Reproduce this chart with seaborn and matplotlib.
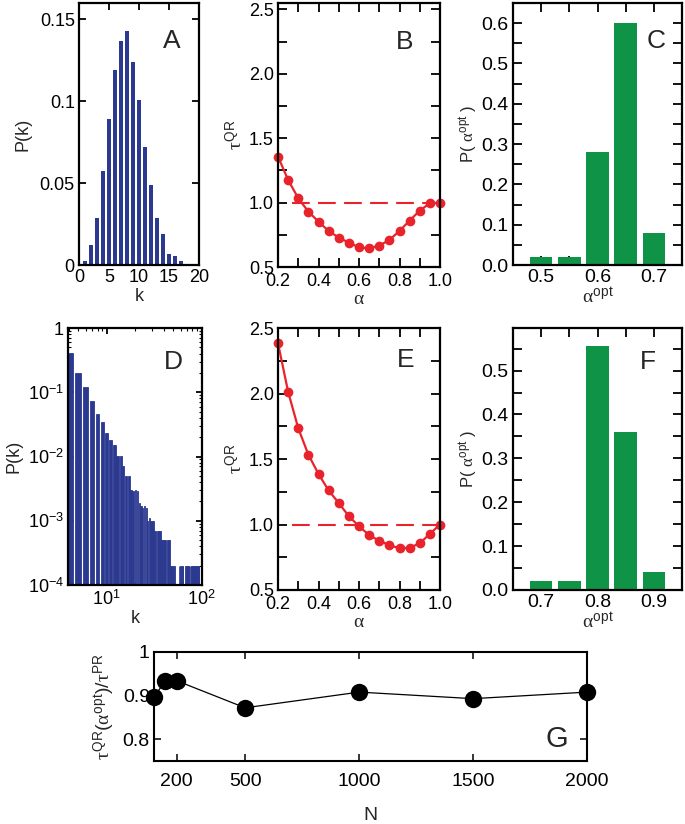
import matplotlib.pyplot as plt
import seaborn as sns
from matplotlib.ticker import FixedLocator, LogLocator, MultipleLocator, NullFormatter

# Panel A: degree distribution of the random graph
k_a = [1, 2, 3, 4, 5, 6, 7, 8, 9, 10, 11, 12, 13, 14, 15, 16, 17]
p_a = [0.0024, 0.012, 0.0285, 0.0575, 0.089, 0.119, 0.137, 0.1427, 0.124,
       0.1006, 0.072, 0.049, 0.0285, 0.019, 0.0067, 0.0055, 0.0026]

# Panels B and E: tau^QR against alpha
alpha = [0.2, 0.25, 0.3, 0.35, 0.4, 0.45, 0.5, 0.55, 0.6, 0.65, 0.7, 0.75,
         0.8, 0.85, 0.9, 0.95, 1.0]
tau_b = [1.357, 1.176, 1.034, 0.93, 0.852, 0.78, 0.728, 0.689, 0.653, 0.645,
         0.666, 0.71, 0.78, 0.86, 0.938, 0.995, 1.0]
tau_e = [2.384, 2.013, 1.735, 1.533, 1.386, 1.26, 1.164, 1.063, 0.987, 0.919,
         0.876, 0.843, 0.818, 0.823, 0.856, 0.929, 1.0]

# Panels C and F: distribution of alpha^opt
alpha_opt_c = [0.5, 0.55, 0.6, 0.65, 0.7]
p_opt_c = [0.02, 0.02, 0.28, 0.60, 0.08]
alpha_opt_f = [0.7, 0.75, 0.8, 0.85, 0.9]
p_opt_f = [0.02, 0.02, 0.555, 0.36, 0.04]

# Panel D: degree distribution of the scale-free graph (k = 4 .. 94)
k_d = list(range(4, 95))
p_d = [0.41, 0.20, 0.12, 0.074, 0.046, 0.035, 0.023, 0.018, 0.015, 0.0103,
       0.0100, 0.0070, 0.0049, 0.0049, 0.0030, 0.0029, 0.0030, 0.0029, 0.0019, 0.0017,
       0.0016, 0.0017, 0.0016, 0.0010, 0.0011, 0.0010, 0.0010, 0.0010, 0.0007, 0.0007,
       0.0007, 0.0007, 0.0007, 0.0007, 0.0005, 0.0005, 0.0005, 0.0005, 0.0005, 0.0001,
       0.0005, 0.0005, 0.0005, 0.0002, 0.0002, 0.0002, 0.0002, 0.0002, 0.0002, 0.0001,
       0.0001, 0.0001, 0.0001, 0.0001, 0.0002, 0.0002, 0.0002, 0.0002, 0.0002, 0.0002,
       0.0002, 0.0001, 0.0001, 0.0001, 0.0002, 0.0002, 0.0002, 0.0002, 0.0002, 0.0002,
       0.0002, 0.0002, 0.0001, 0.0002, 0.0002, 0.0002, 0.0002, 0.0002, 0.0002, 0.0002,
       0.0002, 0.0002, 0.0002, 0.0002, 0.0002, 0.0002, 0.0002, 0.0002, 0.0002, 0.0002,
       0.0002]

# Panel G: ratio against network size
n_nodes = [100, 150, 200, 500, 1000, 1500, 2000]
ratio = [0.897, 0.934, 0.934, 0.872, 0.908, 0.893, 0.908]

BLUE = "#2b3990"
RED = "#e8232b"
GREEN = "#0f9447"

sns.set_theme(style="ticks")
plt.rcParams["font.family"] = ["Liberation Sans", "DejaVu Sans"]
plt.rcParams["mathtext.fontset"] = "custom"
plt.rcParams["mathtext.rm"] = "Liberation Sans"
plt.rcParams["mathtext.it"] = "Liberation Serif"
plt.rcParams["mathtext.bf"] = "Liberation Sans:bold"

W, H = 685, 824
fig = plt.figure(figsize=(W / 100, H / 100), dpi=100)


def add_axes(left, top, right, bottom):
    return fig.add_axes([left / W, 1 - bottom / H, (right - left) / W, (bottom - top) / H])


def frame(ax, lw=1.6, length=6.5, size=13):
    for s in ax.spines.values():
        s.set_linewidth(lw)
        s.set_color("black")
        s.set_visible(True)
    ax.tick_params(which="both", direction="in", top=True, right=True,
                   length=length, width=1.3, labelsize=size, colors="black", pad=3)


def letter(ax, s, x, y, size=19):
    ax.text(x, y, s, transform=ax.transAxes, ha="center", va="center", fontsize=size)


alpha_lab = r"$\alpha$"
tau_lab = r"$\tau^{\mathrm{QR}}$"
popt_lab = r"P( $\alpha^{\mathrm{opt}}$ )"
aopt_lab = r"$\alpha^{\mathrm{opt}}$"

# ---- A
ax = add_axes(79, 3, 199, 265)
sns.barplot(x=k_a, y=p_a, native_scale=True, color=BLUE, saturation=1, width=0.8,
            linewidth=0, ax=ax)
ax.set_xlim(0, 20)
ax.set_ylim(0, 0.16)
ax.set_xticks([0, 5, 10, 15, 20], ["0", "5", "10", "15", "20"])
ax.set_yticks([0, 0.05, 0.1, 0.15], ["0", "0.05", "0.1", "0.15"])
frame(ax, length=5)
ax.set_xlabel("k", fontsize=13, labelpad=1)
ax.set_ylabel("P(k)", fontsize=13, labelpad=6)
letter(ax, "A", 0.775, 0.856)

# ---- B
ax = add_axes(278, 3, 440, 267)
ax.plot([0.27, 1.0], [1.0, 1.0], color=RED, lw=1.5, dashes=(8.5, 4))
sns.lineplot(x=alpha, y=tau_b, color=RED, marker="o", markersize=7, markeredgewidth=0,
             linewidth=1.6, clip_on=False, ax=ax)
ax.set_xlim(0.2, 1.0)
ax.set_ylim(0.5, 2.55)
ax.xaxis.set_major_locator(FixedLocator([0.2, 0.4, 0.6, 0.8, 1.0]))
ax.xaxis.set_minor_locator(MultipleLocator(0.1))
ax.set_xticklabels(["0.2", "0.4", "0.6", "0.8", "1.0"])
ax.yaxis.set_major_locator(FixedLocator([0.5, 1.0, 1.5, 2.0, 2.5]))
ax.yaxis.set_minor_locator(MultipleLocator(0.25))
ax.set_yticklabels(["0.5", "1.0", "1.5", "2.0", "2.5"])
frame(ax)
ax.tick_params(axis="x", pad=4)
ax.set_xlabel(alpha_lab, fontsize=14, labelpad=1)
ax.set_ylabel(tau_lab, fontsize=14, labelpad=2)
letter(ax, "B", 0.784, 0.851)

# ---- C
ax = add_axes(513, 3, 682, 265)
sns.barplot(x=alpha_opt_c, y=p_opt_c, native_scale=True, color=GREEN, saturation=1,
            width=0.8, linewidth=0, ax=ax)
ax.set_xlim(0.45, 0.75)
ax.set_ylim(0, 0.65)
ax.xaxis.set_major_locator(FixedLocator([0.5, 0.6, 0.7]))
ax.xaxis.set_minor_locator(MultipleLocator(0.05))
ax.set_xticklabels(["0.5", "0.6", "0.7"])
ax.yaxis.set_major_locator(FixedLocator([0, 0.1, 0.2, 0.3, 0.4, 0.5, 0.6]))
ax.yaxis.set_minor_locator(MultipleLocator(0.05))
ax.set_yticklabels(["0.0", "0.1", "0.2", "0.3", "0.4", "0.5", "0.6"])
frame(ax, size=14)
ax.set_xlabel(aopt_lab, fontsize=14, labelpad=0)
ax.set_ylabel(popt_lab, fontsize=12, labelpad=2)
letter(ax, "C", 0.846, 0.856)

# ---- D
ax = add_axes(68, 328, 202, 585)
ax.set_xscale("log")
ax.set_yscale("log")
ax.bar(k_d, p_d, width=0.75, bottom=1e-6, color=BLUE, edgecolor=BLUE, linewidth=0.6)
ax.set_xlim(3.9, 101)
ax.set_ylim(1e-4, 1)
ax.yaxis.set_major_locator(FixedLocator([1e-4, 1e-3, 1e-2, 1e-1, 1]))
ax.set_yticklabels([r"$10^{-4}$", r"$10^{-3}$", r"$10^{-2}$", r"$10^{-1}$", "1"])
ax.yaxis.set_minor_locator(LogLocator(subs=range(2, 10)))
ax.yaxis.set_minor_formatter(NullFormatter())
ax.xaxis.set_major_locator(FixedLocator([10, 100]))
ax.set_xticklabels([r"$10^{1}$", r"$10^{2}$"])
ax.xaxis.set_minor_locator(LogLocator(subs=range(2, 10)))
ax.xaxis.set_minor_formatter(NullFormatter())
frame(ax, lw=1.6, size=13)
ax.tick_params(which="major", length=4)
ax.tick_params(which="minor", length=2, width=0.8)
ax.set_xlabel("k", fontsize=13, labelpad=1)
ax.set_ylabel("P(k)", fontsize=13, labelpad=4)
letter(ax, "D", 0.787, 0.869)

# ---- E
ax = add_axes(278, 328, 440, 590)
ax.plot([0.27, 1.0], [1.0, 1.0], color=RED, lw=1.5, dashes=(8.5, 4))
sns.lineplot(x=alpha, y=tau_e, color=RED, marker="o", markersize=7, markeredgewidth=0,
             linewidth=1.6, clip_on=False, ax=ax)
ax.set_xlim(0.2, 1.0)
ax.set_ylim(0.5, 2.5)
ax.xaxis.set_major_locator(FixedLocator([0.2, 0.4, 0.6, 0.8, 1.0]))
ax.xaxis.set_minor_locator(MultipleLocator(0.1))
ax.set_xticklabels(["0.2", "0.4", "0.6", "0.8", "1.0"])
ax.yaxis.set_major_locator(FixedLocator([0.5, 1.0, 1.5, 2.0, 2.5]))
ax.yaxis.set_minor_locator(MultipleLocator(0.25))
ax.set_yticklabels(["0.5", "1.0", "1.5", "2.0", "2.5"])
frame(ax)
ax.tick_params(axis="x", pad=4)
ax.set_xlabel(alpha_lab, fontsize=14, labelpad=1)
ax.set_ylabel(tau_lab, fontsize=14, labelpad=2)
letter(ax, "E", 0.79, 0.878)

# ---- F
ax = add_axes(513, 328, 682, 590)
sns.barplot(x=alpha_opt_f, y=p_opt_f, native_scale=True, color=GREEN, saturation=1,
            width=0.8, linewidth=0, ax=ax)
ax.set_xlim(0.65, 0.95)
ax.set_ylim(0, 0.597)
ax.xaxis.set_major_locator(FixedLocator([0.7, 0.8, 0.9]))
ax.xaxis.set_minor_locator(MultipleLocator(0.05))
ax.set_xticklabels(["0.7", "0.8", "0.9"])
ax.yaxis.set_major_locator(FixedLocator([0, 0.1, 0.2, 0.3, 0.4, 0.5]))
ax.yaxis.set_minor_locator(MultipleLocator(0.05))
ax.set_yticklabels(["0.0", "0.1", "0.2", "0.3", "0.4", "0.5"])
frame(ax, size=14)
ax.set_xlabel(aopt_lab, fontsize=14, labelpad=0)
ax.set_ylabel(popt_lab, fontsize=12, labelpad=2)
letter(ax, "F", 0.80, 0.87)

# ---- G
ax = add_axes(154, 652, 587, 761)
sns.lineplot(x=n_nodes, y=ratio, color="black", marker="o", markersize=12.5,
             markeredgewidth=0, linewidth=0.9, clip_on=False, ax=ax)
ax.set_xlim(100, 2000)
ax.set_ylim(0.75, 1.0)
ax.set_xticks([200, 500, 1000, 1500, 2000], ["200", "500", "1000", "1500", "2000"])
ax.set_yticks([0.8, 0.9, 1.0], ["0.8", "0.9", "1"])
frame(ax, lw=1.5, length=5, size=14)
ax.tick_params(width=1.1)
ax.tick_params(axis="x", pad=9)
ax.set_xlabel("N", fontsize=14, labelpad=12)
ax.set_ylabel(r"$\tau^{\mathrm{QR}}(\alpha^{\mathrm{opt}})/\tau^{\mathrm{PR}}$", fontsize=14,
              labelpad=4)
letter(ax, "G", 0.93, 0.2, size=21)

fig.savefig("out.png", dpi=100)
plt.close(fig)
